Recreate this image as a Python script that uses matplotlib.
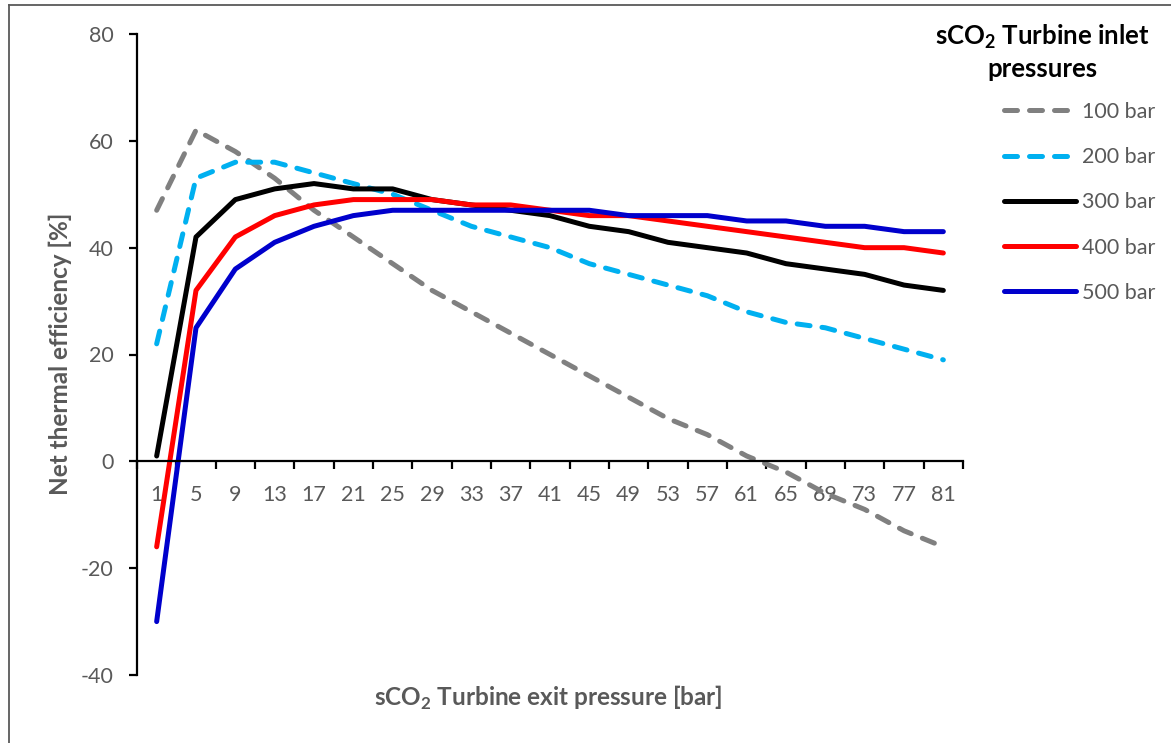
import matplotlib
matplotlib.use("Agg")
import matplotlib.pyplot as plt
from matplotlib.lines import Line2D
import numpy as np

plt.rcParams["font.family"] = ["Lato", "DejaVu Sans"]
plt.rcParams["mathtext.fontset"] = "custom"
plt.rcParams["mathtext.rm"] = "Lato"
plt.rcParams["mathtext.bf"] = "Lato:bold"
plt.rcParams["axes.unicode_minus"] = False

# Turbine exit pressure categories [bar]
exit_pressure = [1, 5, 9, 13, 17, 21, 25, 29, 33, 37, 41,
                 45, 49, 53, 57, 61, 65, 69, 73, 77, 81]

# Net thermal efficiency [%] for each turbine inlet pressure
eff_100 = [47, 62, 58, 53, 47, 42, 37, 32, 28, 24, 20,
           16, 12, 8, 5, 1, -2, -6, -9, -13, -16]
eff_200 = [22, 53, 56, 56, 54, 52, 50, 47, 44, 42, 40,
           37, 35, 33, 31, 28, 26, 25, 23, 21, 19]
eff_300 = [1, 42, 49, 51, 52, 51, 51, 49, 48, 47, 46,
           44, 43, 41, 40, 39, 37, 36, 35, 33, 32]
eff_400 = [-16, 32, 42, 46, 48, 49, 49, 49, 48, 48, 47,
           46, 46, 45, 44, 43, 42, 41, 40, 40, 39]
eff_500 = [-30, 25, 36, 41, 44, 46, 47, 47, 47, 47, 47,
           47, 46, 46, 46, 45, 45, 44, 44, 43, 43]

series_labels = ["100 bar", "200 bar", "300 bar", "400 bar", "500 bar"]
series_values = [eff_100, eff_200, eff_300, eff_400, eff_500]
series_colors = ["#808080", "#00B0F0", "#000000", "#FF0000", "#0000CC"]
series_dashed = [True, True, False, False, False]

TXT = "#595959"

fig = plt.figure(figsize=(11.71, 7.43), dpi=100)
ax = fig.add_axes([137 / 1171, 1 - 675 / 743, (963 - 137) / 1171, (675 - 34) / 743])

x = np.arange(len(exit_pressure))
lw = 3.6
handles = []
for vals, col, dashed, lab in zip(series_values, series_colors, series_dashed, series_labels):
    kw = dict(color=col, lw=lw, solid_capstyle="round", solid_joinstyle="round",
              dash_capstyle="round", dash_joinstyle="round")
    if dashed:
        line, = ax.plot(x, vals, linestyle=(0, (2.6, 2.4)), label=lab, **kw)
    else:
        line, = ax.plot(x, vals, label=lab, **kw)
    handles.append(line)

ax.set_xlim(-0.5, len(exit_pressure) - 0.5)
ax.set_ylim(-40, 80)
ax.set_yticks([-40, -20, 0, 20, 40, 60, 80])

# Category axis crossing at zero, ticks on category boundaries
ax.spines["top"].set_visible(False)
ax.spines["right"].set_visible(False)
ax.spines["bottom"].set_position(("data", 0))
for s in ("left", "bottom"):
    ax.spines[s].set_linewidth(1.6)
    ax.spines[s].set_color("black")

ax.set_xticks(np.arange(len(exit_pressure) + 1) - 0.5)
ax.set_xticklabels([])
ax.tick_params(axis="x", which="major", direction="out", length=6, width=1.6, color="black")
ax.set_xticks(x, minor=True)
ax.set_xticklabels([str(v) for v in exit_pressure], minor=True)
ax.tick_params(axis="x", which="minor", length=0, pad=17, labelsize=15.5, labelcolor=TXT)
ax.tick_params(axis="y", direction="out", length=6, width=1.6, color="black",
               labelsize=15.5, labelcolor=TXT, pad=11)

fig.text(548 / 1171, 1 - 698 / 743, r"sCO$_\mathbf{2}$ Turbine exit pressure [bar]",
         ha="center", va="center", fontsize=17.5, fontweight="bold", color=TXT)
fig.text(60 / 1171, 1 - 354 / 743, "Net thermal efficiency [%]", rotation=90,
         ha="center", va="center", fontsize=17.5, fontweight="bold", color=TXT)

leg = fig.legend(handles=handles, loc="upper left", bbox_to_anchor=(1004 / 1171, 1 - 102 / 743),
                 frameon=False, fontsize=15.5, labelcolor=TXT, handlelength=3.35,
                 handletextpad=0.25, labelspacing=1.17, borderaxespad=0, borderpad=0)
fig.text(1042 / 1171, 1 - 52 / 743, "sCO$_\\mathbf{2}$ Turbine inlet\npressures",
         ha="center", va="center", fontsize=18.5, fontweight="bold", color="black",
         multialignment="center", linespacing=1.3)

# Chart-area border on left and top
fig.add_artist(Line2D([8.5 / 1171, 8.5 / 1171], [0, 1 - 5 / 743], color=TXT, lw=1.3,
                      transform=fig.transFigure))
fig.add_artist(Line2D([8.5 / 1171, 1], [1 - 5 / 743, 1 - 5 / 743], color=TXT, lw=1.3,
                      transform=fig.transFigure))

fig.savefig("out.png", dpi=100, facecolor="white")
